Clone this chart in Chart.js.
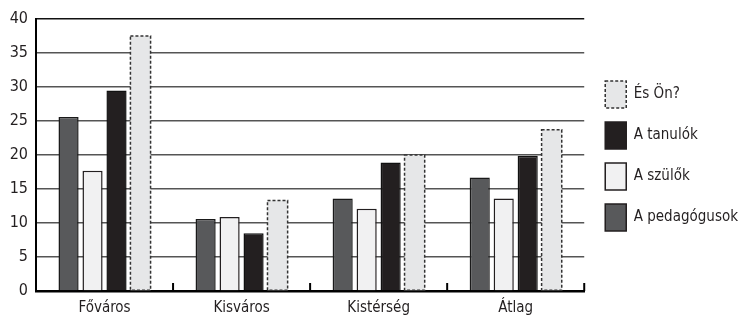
<!DOCTYPE html>
<html>
<head>
<meta charset="utf-8">
<script src="https://cdn.jsdelivr.net/npm/chart.js@4.4.1/dist/chart.umd.min.js"></script>
<style>
  html, body { margin: 0; padding: 0; background: #fff; }
  #wrap { width: 741px; height: 315px; position: relative; }
</style>
</head>
<body>
<div id="wrap"><canvas id="chart"></canvas></div>
<script>
  const categories = ["Főváros", "Kisváros", "Kistérség", "Átlag"];
  const seriesNames = ["A pedagógusok", "A szülők", "A tanulók", "És Ön?"];
  const pedagogusok = [25.6, 10.6, 13.6, 16.7];
  const szulok = [17.7, 10.9, 12.1, 13.6];
  const tanulok = [29.5, 8.5, 18.9, 19.9];
  const esOn = [37.5, 13.3, 20.0, 23.7];
  const yTicks = [0, 5, 10, 15, 20, 25, 30, 35, 40];

  Chart.defaults.font.family = "'DejaVu Sans Condensed', 'Liberation Sans', sans-serif";
  Chart.defaults.color = "#231f20";

  // dashed outline for the "És Ön?" bars (bar elements ignore borderDash)
  const dashedBars = {
    id: "dashedBars",
    afterDatasetsDraw(chart) {
      const meta = chart.getDatasetMeta(3);
      if (meta.hidden) return;
      const ctx = chart.ctx;
      ctx.save();
      ctx.strokeStyle = "#333";
      ctx.lineWidth = 1.5;
      ctx.setLineDash([3, 2]);
      meta.data.forEach((bar) => {
        const p = bar.getProps(["x", "y", "base", "width"], true);
        ctx.strokeRect(p.x - p.width / 2, p.y, p.width, p.base - p.y);
      });
      ctx.restore();
    }
  };

  // small upward ticks on the x axis at the category boundaries
  const boundaryTicks = {
    id: "boundaryTicks",
    afterDraw(chart) {
      const x = chart.scales.x;
      const area = chart.chartArea;
      const ctx = chart.ctx;
      ctx.save();
      ctx.strokeStyle = "#000";
      ctx.lineWidth = 2;
      for (let i = 1; i <= categories.length; i++) {
        const px = i < categories.length
          ? (x.getPixelForValue(i - 1) + x.getPixelForValue(i)) / 2
          : area.right;
        ctx.beginPath();
        ctx.moveTo(px, area.bottom);
        ctx.lineTo(px, area.bottom - 8);
        ctx.stroke();
      }
      ctx.restore();
    }
  };

  // nudge legend to the right edge and up a little
  const legendShift = {
    id: "legendShift",
    afterLayout(chart) {
      chart.legend.left += 7;
      chart.legend.right += 7;
      chart.legend.top -= 11;
      chart.legend.bottom -= 11;
    }
  };

  const baseGenerate = Chart.defaults.plugins.legend.labels.generateLabels;

  new Chart(document.getElementById("chart"), {
    type: "bar",
    data: {
      labels: categories,
      datasets: [
        { label: seriesNames[0], data: pedagogusok, backgroundColor: "#58595b", borderColor: "#1a1a1a", borderWidth: 1.5 },
        { label: seriesNames[1], data: szulok, backgroundColor: "#f1f1f2", borderColor: "#231f20", borderWidth: 1.5 },
        { label: seriesNames[2], data: tanulok, backgroundColor: "#231f20", borderColor: "#111", borderWidth: 1.5 },
        { label: seriesNames[3], data: esOn, backgroundColor: "#e6e7e8", borderWidth: 0 }
      ]
    },
    options: {
      responsive: true,
      maintainAspectRatio: false,
      animation: false,
      layout: { padding: { top: 19, right: 0, bottom: 0, left: 0 } },
      datasets: { bar: { categoryPercentage: 0.7, barPercentage: 0.84 } },
      scales: {
        x: {
          grid: { display: false },
          border: { color: "#000", width: 2.5 },
          ticks: { font: { size: 15 }, padding: 0, maxRotation: 0 },
          afterFit: (scale) => { scale.height = 24; }
        },
        y: {
          min: 0,
          max: 40,
          afterBuildTicks: (scale) => { scale.ticks = yTicks.map((v) => ({ value: v })); },
          grid: {
            drawTicks: false,
            color: (c) => (c.tick && c.tick.value === 40 ? "#111" : "#555"),
            lineWidth: 1.5
          },
          border: { color: "#000", width: 2 },
          ticks: { font: { size: 16 }, padding: 8 },
          afterFit: (scale) => { scale.width = 36; }
        }
      },
      plugins: {
        tooltip: { enabled: false },
        legend: {
          position: "right",
          reverse: true,
          labels: {
            boxWidth: 21,
            boxHeight: 27,
            padding: 14,
            font: { size: 15 },
            generateLabels: (chart) => {
              const items = baseGenerate(chart);
              items.forEach((item) => {
                item.lineWidth = 1.5;
                item.strokeStyle = "#231f20";
                if (item.datasetIndex === 3) {
                  item.lineDash = [3, 2];
                  item.strokeStyle = "#333";
                }
              });
              return items;
            }
          }
        }
      }
    },
    plugins: [dashedBars, boundaryTicks, legendShift]
  });
</script>
</body>
</html>
